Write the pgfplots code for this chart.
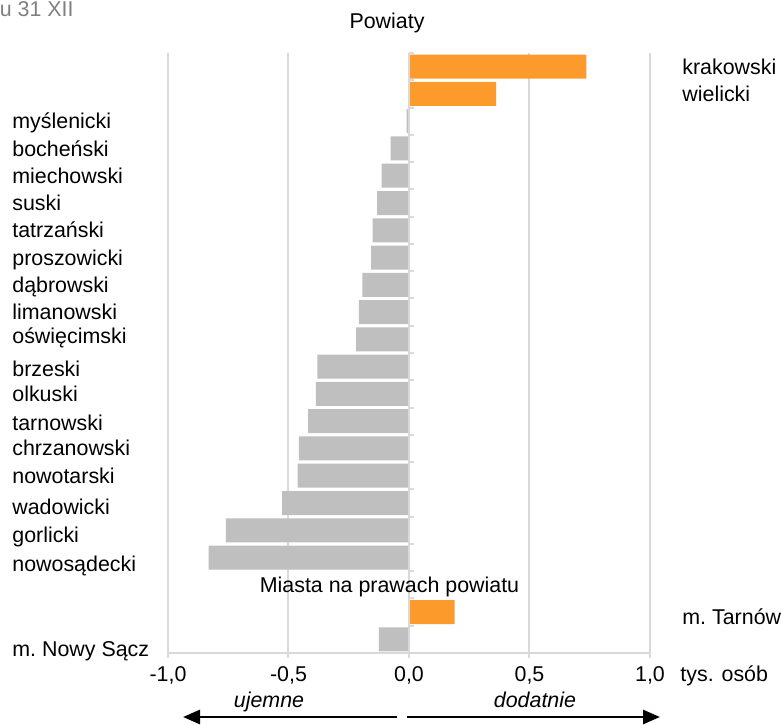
\documentclass[border=0pt]{standalone}
\usepackage{pgfplots}
\pgfplotsset{compat=1.18}
\usepackage{pgfplotstable}
\usepackage{fontspec}
\setmainfont{Liberation Sans}
\usetikzlibrary{arrows.meta}
\definecolor{orangeC}{RGB}{252,154,44}
\definecolor{barGray}{RGB}{191,191,191}
\definecolor{gridC}{RGB}{217,217,217}
\definecolor{noteC}{RGB}{128,128,128}
\newcommand{\lbl}{\fontsize{10.7}{12.8}\selectfont}

\pgfplotstableread{
pos val
0 0.736
1 0.361
20 0.189
}\positive
\pgfplotstableread{
pos val
2 -0.010
3 -0.076
4 -0.114
5 -0.132
6 -0.151
7 -0.157
8 -0.193
9 -0.208
10 -0.219
11 -0.380
12 -0.386
13 -0.419
14 -0.457
15 -0.462
16 -0.526
17 -0.760
18 -0.831
21 -0.125
}\negative

\begin{document}
\begin{tikzpicture}[font=\lbl]
\begin{axis}[
  at={(84pt,-326.5pt)}, anchor=south west,
  scale only axis, width=241pt, height=300pt,
  xmin=-1, xmax=1, ymin=-0.5, ymax=21.5, y dir=reverse,
  axis x line*=bottom, axis y line*=left,
  x axis line style={gridC, line width=1pt, -},
  y axis line style={draw=none},
  xmajorgrids, grid style={gridC, line width=1pt},
  xtick={-1,-0.5,0,0.5,1},
  xticklabels={{-1,0},{-0,5},{0,0},{0,5},{1,0}},
  xtick align=outside, major tick length=2.5pt,
  xtick style={gridC, line width=1pt},
  xticklabel style={font=\lbl, anchor=base, inner sep=0pt, yshift=-11.5pt},
  ytick={0,...,21},
  yticklabels={{},{},my\'slenicki,boche\'nski,miechowski,suski,tatrza\'nski,proszowicki,dąbrowski,limanowski,{\raisebox{2pt}{oświęcimski}},{\raisebox{-1.3pt}{brzeski}},olkuski,{\raisebox{-0.8pt}{tarnowski}},{\raisebox{0.5pt}{chrzanowski}},nowotarski,{\raisebox{-2pt}{wadowicki}},{\raisebox{-2.5pt}{gorlicki}},{\raisebox{-3.3pt}{nowosądecki}},{},{},{\raisebox{-4.5pt}{m.\ Nowy Sącz}}},
  ytick style={draw=none},
  yticklabel style={font=\lbl, anchor=base west, inner sep=0pt, xshift=-78pt, yshift=-3.85pt},
  clip=false,
]
\addplot[xbar, bar width=12pt, bar shift=0pt, fill=orangeC, draw=none] table[x=val, y=pos] {\positive};
\addplot[xbar, bar width=12pt, bar shift=0pt, fill=barGray, draw=none] table[x=val, y=pos] {\negative};
\draw[gridC, line width=1pt] (axis cs:0,-0.5) -- (axis cs:0,21.5);
\pgfplotsinvokeforeach{-0.5,0.5,...,21.5}{\draw[gridC, line width=1pt] (axis cs:0,#1) -- ([xshift=2.5pt]axis cs:0,#1);}
\end{axis}
\begin{axis}[
  at={(84pt,-326.5pt)}, anchor=south west,
  scale only axis, width=241pt, height=300pt,
  xmin=-1, xmax=1, ymin=-0.5, ymax=21.5, y dir=reverse,
  hide x axis, axis y line*=right,
  y axis line style={draw=none},
  ytick={0,1,20},
  yticklabels={krakowski,wielicki,{\raisebox{-2.5pt}{m.\ Tarnów}}},
  ytick style={draw=none},
  yticklabel style={font=\lbl, anchor=base west, inner sep=0pt, xshift=16pt, yshift=-3.85pt},
  clip=false,
]
\addplot[draw=none] coordinates {(0,0)};
\end{axis}
\begin{scope}[x=0.5pt, y=-0.5pt]
\node[anchor=base east, text=noteC, inner sep=0pt] at (74,16) {u 31 XII};
\node[anchor=base, inner sep=0pt] at (387,28) {Powiaty};
\node[anchor=base, inner sep=0pt] at (389.5,592) {Miasta na prawach powiatu};
\node[anchor=base west, inner sep=0pt] at (680,681) {tys. osób};
\node[anchor=base, inner sep=0pt, font=\lbl\itshape] at (269,707) {ujemne};
\node[anchor=base, inner sep=0pt, font=\lbl\itshape] at (535,707) {dodatnie};
\draw[line width=1.35pt, -{Triangle[length=8.5pt,width=7pt]}] (397,717) -- (183,717);
\draw[line width=1.35pt, -{Triangle[length=8.5pt,width=7pt]}] (407,717) -- (660,717);
\end{scope}
\pgfresetboundingbox
\path (0,0) rectangle (391pt,-362pt);
\end{tikzpicture}
\end{document}
